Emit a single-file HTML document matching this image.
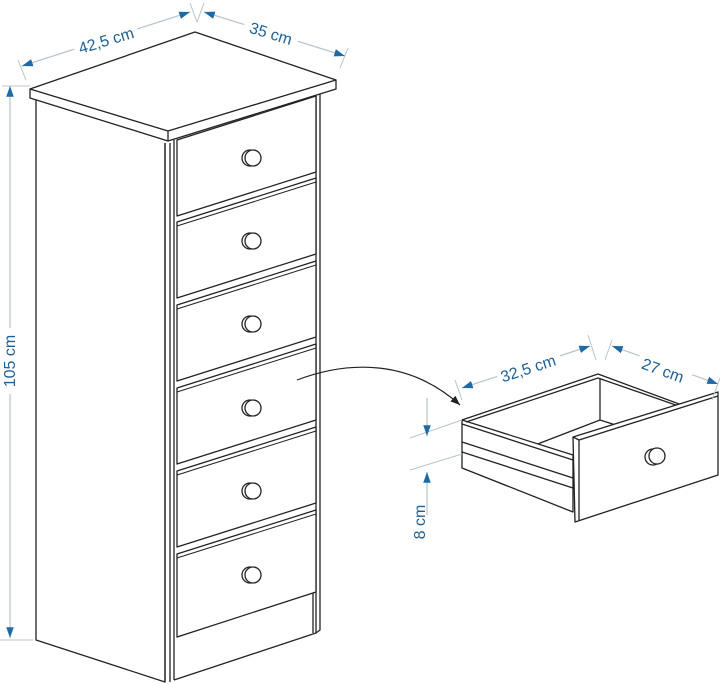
<!DOCTYPE html>
<html><head><meta charset="utf-8"><style>
html,body{margin:0;padding:0;background:#fff;width:720px;height:684px;overflow:hidden}
svg{display:block}
text{font-family:"Liberation Sans",sans-serif;fill:#1f5f95;font-size:16px}
</style></head><body>
<svg width="720" height="684" viewBox="0 0 720 684" xmlns="http://www.w3.org/2000/svg">
<defs>
<marker id="a" viewBox="0 0 10 10" refX="10" refY="5" markerWidth="9" markerHeight="9" orient="auto-start-reverse"><path d="M0,1.5 L10,5 L0,8.5 z" fill="#1f6aa5"/></marker>
<marker id="k" viewBox="0 0 10 10" refX="10" refY="5" markerWidth="8" markerHeight="8" orient="auto"><path d="M0,1 L10,5 L0,9 z" fill="#222"/></marker>
</defs>
<g fill="none" stroke="#222" stroke-width="1.3" stroke-linejoin="round">
<path d="M30,89 L195,32 L336,80 L168,131 Z" fill="#fff"/>
<path d="M30,89 L30,98 L168,141 L336,89 L336,80"/>
<path d="M168,131 L168,141"/>
<path d="M36,100 L36,640 L165,682 L165,143"/>
<path d="M165,143 L165,682 M170,143 L170,682 M174,140 L174,680"/>
<path d="M174,680 L316,633 L316,96 M320,94 L320,630 L316,633"/>
<path d="M177,637 L313,592 L313,633"/>
</g>
<g fill="#fff" stroke="#222" stroke-width="1.3" stroke-linejoin="round">
<path d="M177,140 L316,96 L316,172 L177,216 Z"/>
<path d="M177,222 L316,178 L316,254 L177,298 Z"/>
<path d="M177,305 L316,261 L316,337 L177,381 Z"/>
<path d="M177,388 L316,344 L316,420 L177,464 Z"/>
<path d="M177,471 L316,427 L316,503 L177,547 Z"/>
<path d="M177,554 L316,510 L316,592 L177,637 Z"/>
</g>
<g fill="none" stroke="#222" stroke-width="1">
<path d="M177,226 L316,182 M177,309 L316,265 M177,392 L316,348 M177,475 L316,431 M177,558 L316,514"/>
</g>
<g fill="#fff" stroke="#222" stroke-width="1.3">
<circle cx="250" cy="158" r="8"/><circle cx="253" cy="158" r="8"/>
<circle cx="250" cy="241" r="8"/><circle cx="253" cy="241" r="8"/>
<circle cx="250" cy="324" r="8"/><circle cx="253" cy="324" r="8"/>
<circle cx="250" cy="408" r="8"/><circle cx="253" cy="408" r="8"/>
<circle cx="250" cy="491" r="8"/><circle cx="253" cy="491" r="8"/>
<circle cx="250" cy="575" r="8"/><circle cx="253" cy="575" r="8"/>
</g>
<path d="M297,380 C350,360 410,360 460,405" fill="none" stroke="#222" stroke-width="1.2" marker-end="url(#k)"/>
<g fill="#fff" stroke="#222" stroke-width="1.3" stroke-linejoin="round">
<path d="M462,420 L598,374 L690,408" fill="none"/>
<path d="M600,378 L600,420 M535,445 L600,420 L625,428" fill="none"/>
<path d="M462,420 L573,455 L573,512 L462,468 Z"/>
<path d="M462,424 L573,460 M462,442 L573,478 M462,452 L573,488"/>
<path d="M466,422 L598,378 L690,410" fill="none"/>
<path d="M573,437 L718,392 L718,475 L575,522 Z"/>
<path d="M579,440 L579,520 M573,437 L579,440 L718,396" fill="none"/>
<circle cx="653" cy="457" r="8"/><circle cx="657" cy="456" r="8"/>
</g>
<g stroke="#b8c4cc" stroke-width="1" fill="none">
<path d="M18,60 L26,80 M190,3 L197,22 M204,3 L197,22 M348,48 L340,68"/>
<path d="M2,86 L30,86 M0,640 L33,640"/>
<path d="M455,380 L462,400 M588,335 L596,360 M612,340 L605,360 M720,378 L712,400"/>
<path d="M410,438 L462,420 M410,470 L462,454"/>
</g>
<g stroke="#b8c4cc" stroke-width="1.2" fill="none">
<path d="M22,66 L190,12" marker-start="url(#a)" marker-end="url(#a)"/>
<path d="M204,12 L345,56" marker-start="url(#a)" marker-end="url(#a)"/>
<path d="M10,86 L10,638" marker-start="url(#a)" marker-end="url(#a)"/>
<path d="M462,388 L590,346" marker-start="url(#a)" marker-end="url(#a)"/>
<path d="M612,346 L718,384" marker-start="url(#a)" marker-end="url(#a)"/>
<path d="M427,398 L427,436" marker-end="url(#a)"/>
<path d="M427,515 L427,472" marker-end="url(#a)"/>
</g>
<g>
<rect x="73" y="30" width="66" height="20" fill="#fff" transform="rotate(-17 106 40)"/>
<text x="106" y="46" text-anchor="middle" transform="rotate(-17 106 40)">42,5 cm</text>
<rect x="243" y="24" width="56" height="20" fill="#fff" transform="rotate(17 271 33)"/>
<text x="271" y="39" text-anchor="middle" transform="rotate(17 271 33)">35 cm</text>
<rect x="0" y="328" width="20" height="66" fill="#fff"/>
<text x="15" y="361" text-anchor="middle" transform="rotate(-90 15 361)">105 cm</text>
<rect x="496" y="358" width="66" height="20" fill="#fff" transform="rotate(-18 528 368)"/>
<text x="528" y="374" text-anchor="middle" transform="rotate(-18 528 368)">32,5 cm</text>
<rect x="636" y="360" width="56" height="20" fill="#fff" transform="rotate(20 663 370)"/>
<text x="663" y="376" text-anchor="middle" transform="rotate(20 663 370)">27 cm</text>
<text x="425" y="522" text-anchor="middle" transform="rotate(-90 425 522)">8 cm</text>
</g>
</svg>
</body></html>
